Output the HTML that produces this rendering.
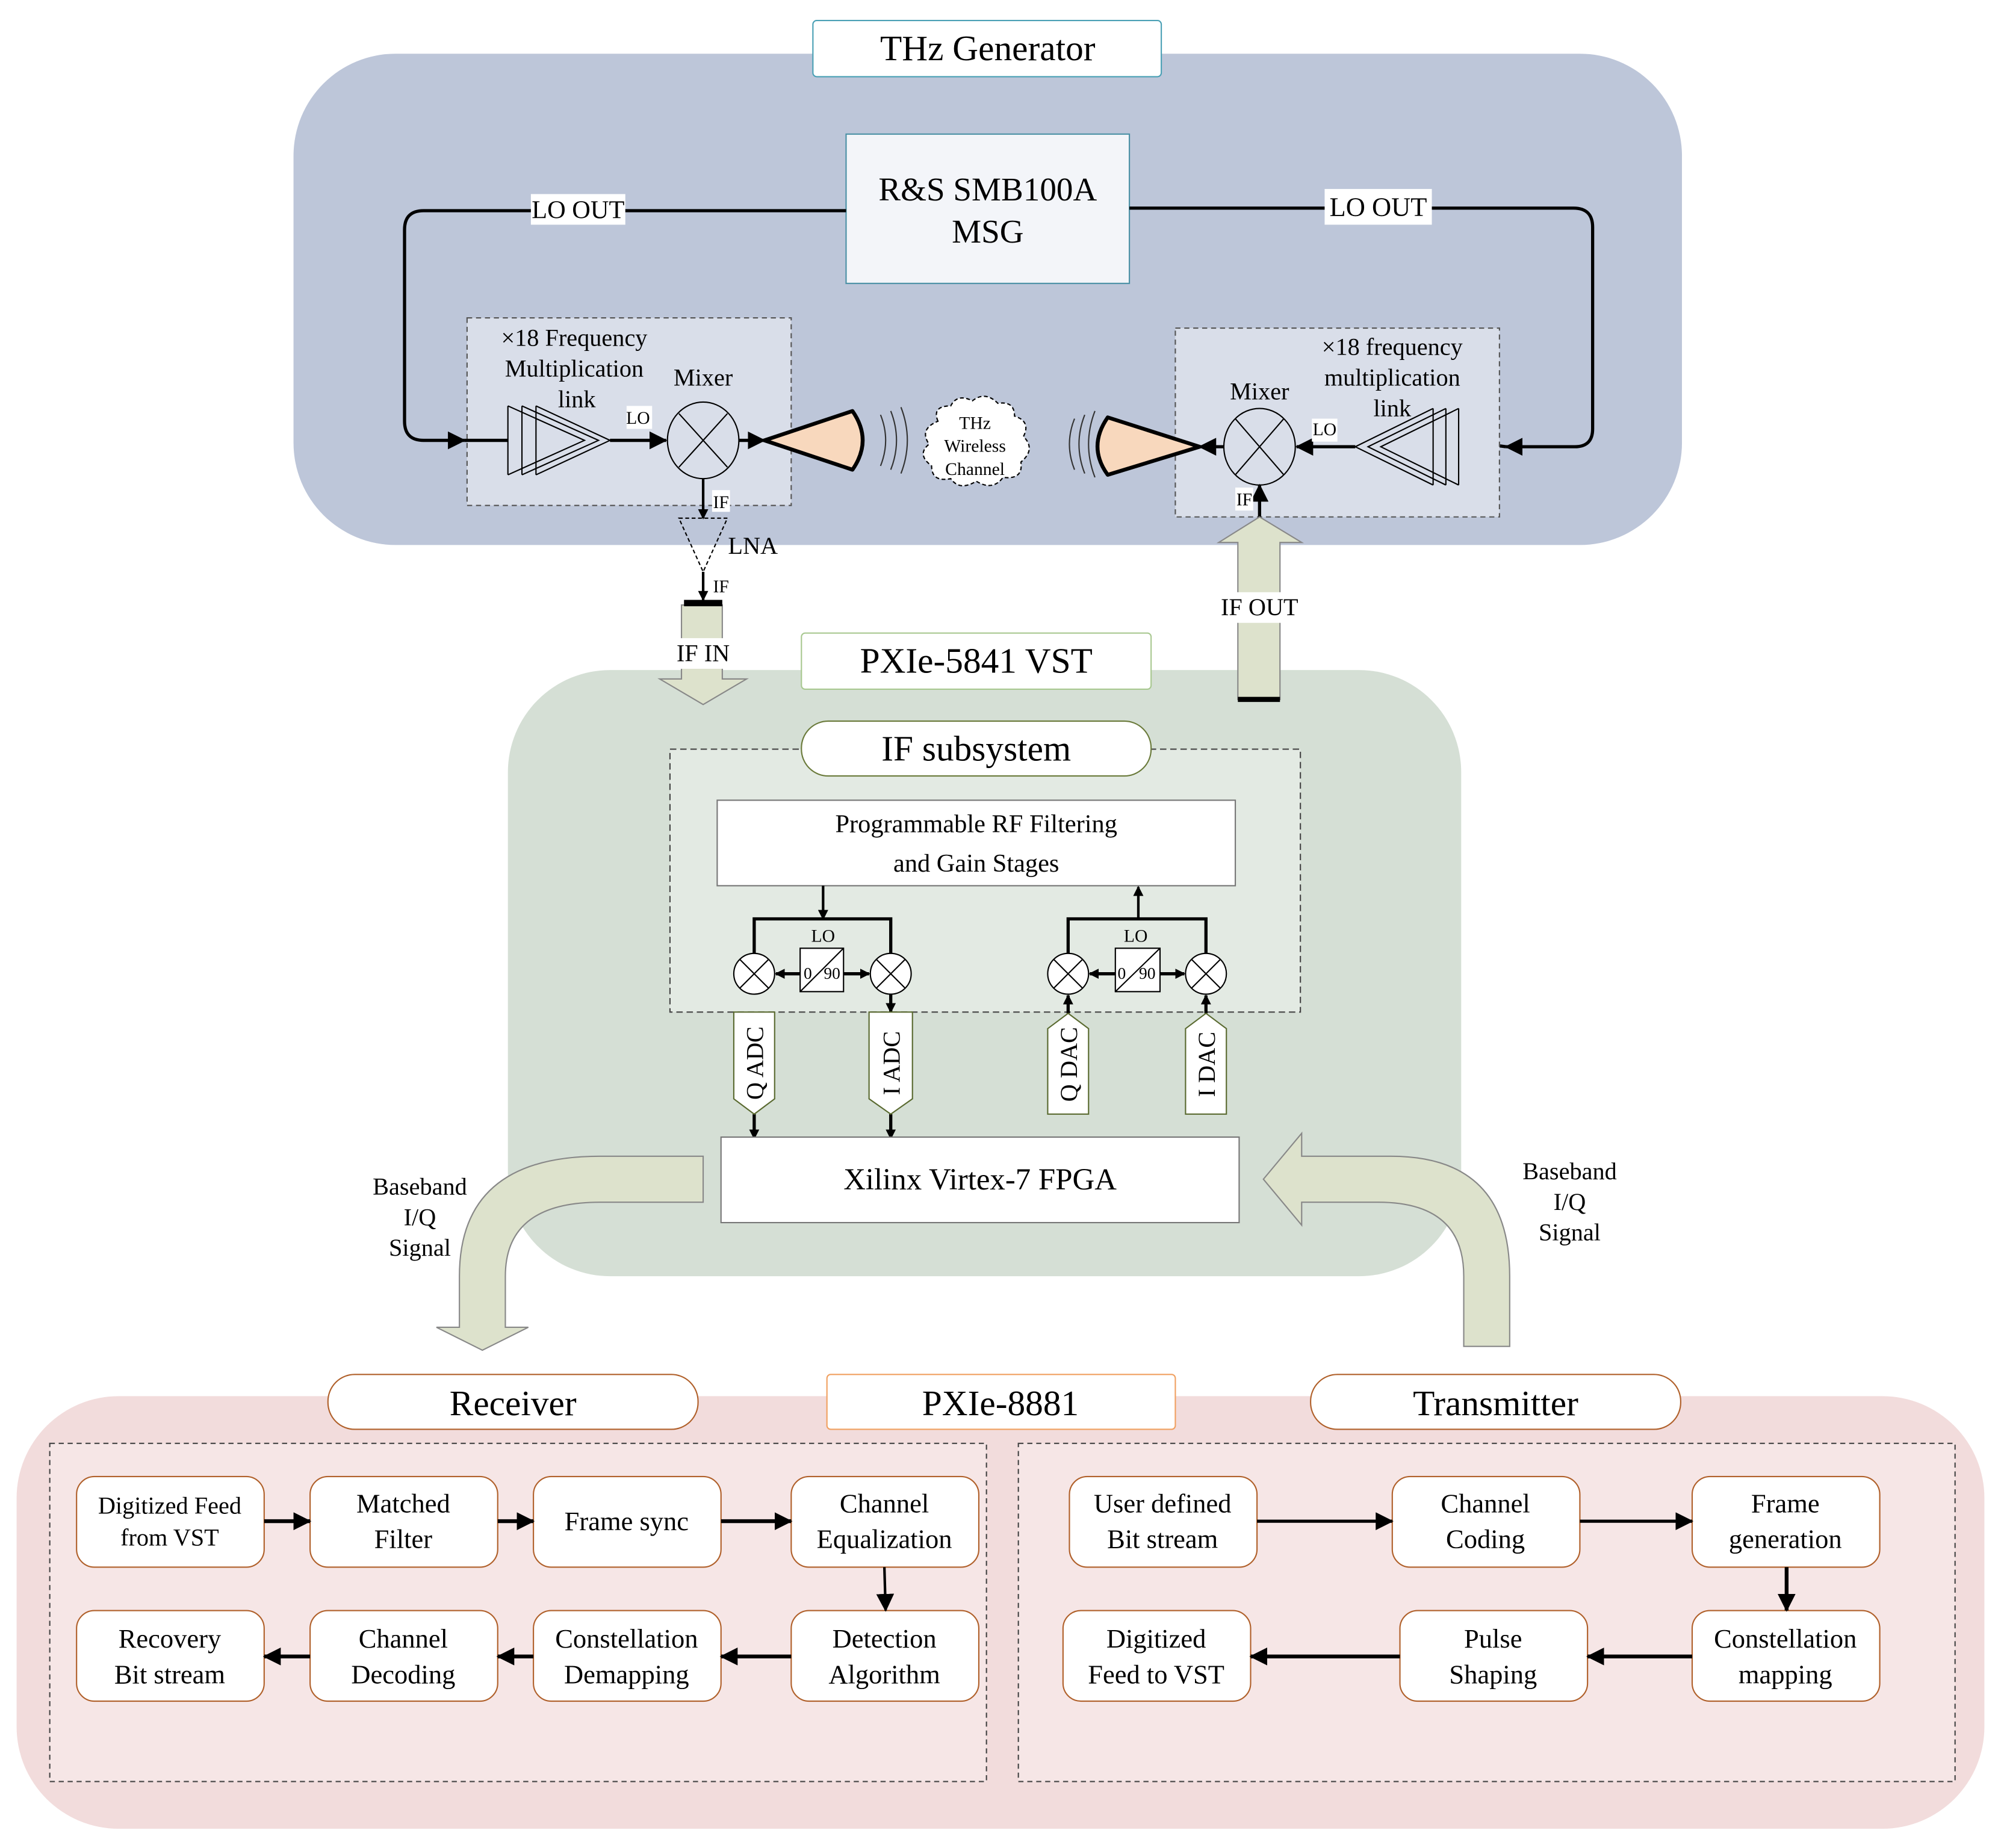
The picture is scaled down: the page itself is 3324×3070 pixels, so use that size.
<!DOCTYPE html>
<html><head><meta charset="utf-8"><style>html,body{margin:0;padding:0;background:#fff}svg{display:block}text{font-family:"Liberation Serif",serif;fill:#000}</style></head><body>
<svg width="3324" height="3070" viewBox="0 0 1568 1448" xmlns="http://www.w3.org/2000/svg">
<defs>
<marker id="ah" markerWidth="10" markerHeight="10" refX="9" refY="5" orient="auto" markerUnits="userSpaceOnUse"><path d="M0,0 L10,5 L0,10 z" fill="#000"/></marker>
<marker id="as" markerWidth="8" markerHeight="8" refX="7" refY="4" orient="auto" markerUnits="userSpaceOnUse"><path d="M0,0 L8,4 L0,8 z" fill="#000"/></marker>
<marker id="ab" markerWidth="14" markerHeight="14" refX="13" refY="7" orient="auto" markerUnits="userSpaceOnUse"><path d="M0,0 L14,7 L0,14 z" fill="#000"/></marker>
</defs>
<rect width="1568" height="1448" fill="#fff"/>

<!-- THz Generator -->
<rect x="230" y="42" width="1088" height="385" rx="80" fill="#bdc6d9"/>
<rect x="637" y="16" width="273" height="44" rx="3" fill="#fff" stroke="#4aa0b5" stroke-width="1"/>
<text x="774" y="47" font-size="28" text-anchor="middle">THz Generator</text>
<rect x="663" y="105" width="222" height="117" fill="#f3f5f9" stroke="#4a90a5" stroke-width="1"/>
<text x="774" y="157" font-size="26" text-anchor="middle">R&amp;S SMB100A</text>
<text x="774" y="190" font-size="26" text-anchor="middle">MSG</text>

<path d="M663,165 L332,165 Q317,165 317,180 L317,330 Q317,345 332,345 L364,345" fill="none" stroke="#000" stroke-width="2.5" marker-end="url(#ab)"/>
<path d="M885,163 L1233,163 Q1248,163 1248,178 L1248,336 Q1248,350 1234,350 L1180,350" fill="none" stroke="#000" stroke-width="2.5" marker-end="url(#ab)"/>
<line x1="1180" y1="350" x2="1143" y2="345" stroke="#000" stroke-width="2.5"/>
<rect x="416" y="152" width="74" height="24" fill="#fff"/><text x="453" y="171" font-size="20" text-anchor="middle">LO OUT</text>
<rect x="1038" y="148" width="84" height="28" fill="#fff"/><text x="1080" y="169" font-size="21" text-anchor="middle">LO OUT</text>

<!-- left module -->
<rect x="366" y="249" width="254" height="147" fill="#d9dee9" stroke="#555" stroke-width="1" stroke-dasharray="4,3"/>
<text x="450" y="271" font-size="19" text-anchor="middle">×18 Frequency</text>
<text x="450" y="295" font-size="19" text-anchor="middle">Multiplication</text>
<text x="452" y="319" font-size="19" text-anchor="middle">link</text>
<g fill="none" stroke="#000" stroke-width="1">
<path d="M398,318 L458,345 L398,372"/><path d="M409,318 L469,345 L409,372"/><path d="M420,318 L478,345 L420,372"/>
<line x1="398" y1="318" x2="398" y2="372"/><line x1="409" y1="318" x2="409" y2="372"/><line x1="420" y1="318" x2="420" y2="372"/>
</g>
<line x1="364" y1="345" x2="398" y2="345" stroke="#000" stroke-width="2.5"/>
<line x1="478" y1="345" x2="522" y2="345" stroke="#000" stroke-width="2.5" marker-end="url(#ab)"/>
<rect x="491" y="318" width="20" height="18" fill="#fff"/><text x="500" y="332" font-size="14" text-anchor="middle">LO</text>
<text x="551" y="302" font-size="19" text-anchor="middle">Mixer</text>
<ellipse cx="551" cy="345" rx="28" ry="30" fill="#d9dee9" stroke="#000" stroke-width="1"/>
<line x1="532" y1="324" x2="570" y2="366" stroke="#000" stroke-width="1"/><line x1="570" y1="324" x2="532" y2="366" stroke="#000" stroke-width="1"/>
<line x1="579" y1="345" x2="599" y2="345" stroke="#000" stroke-width="2.5" marker-end="url(#ab)"/>
<path d="M599,345 L668,322 Q684,345 668,368 Z" fill="#f8d8bd" stroke="#000" stroke-width="3" stroke-linejoin="round"/>
<g fill="none" stroke="#333" stroke-width="1">
<path d="M690,325 Q698,345 690,365"/><path d="M698,322 Q707,345 698,368"/><path d="M706,319 Q716,345 706,371"/>
<path d="M842,328 Q834,348 842,368"/><path d="M850,325 Q841,348 850,371"/><path d="M858,322 Q848,348 858,374"/>
</g>
<path d="M735,330 Q730,318 745,318 Q750,308 762,314 Q772,306 782,316 Q795,314 795,326 Q808,330 802,342 Q812,352 800,362 Q802,376 786,374 Q778,385 765,377 Q752,385 745,375 Q730,378 730,365 Q718,356 728,348 Q720,336 735,330 Z" fill="#fff" stroke="#000" stroke-width="1" stroke-dasharray="3,2"/>
<text x="764" y="336" font-size="14" text-anchor="middle">THz</text>
<text x="764" y="354" font-size="14" text-anchor="middle">Wireless</text>
<text x="764" y="372" font-size="14" text-anchor="middle">Channel</text>

<!-- right module -->
<rect x="921" y="257" width="254" height="148" fill="#d9dee9" stroke="#555" stroke-width="1" stroke-dasharray="4,3"/>
<path d="M940,350 L868,327 Q852,350 868,372 Z" fill="#f8d8bd" stroke="#000" stroke-width="3" stroke-linejoin="round"/>
<text x="1091" y="278" font-size="19" text-anchor="middle">×18 frequency</text>
<text x="1091" y="302" font-size="19" text-anchor="middle">multiplication</text>
<text x="1091" y="326" font-size="19" text-anchor="middle">link</text>
<text x="987" y="313" font-size="19" text-anchor="middle">Mixer</text>
<ellipse cx="987" cy="350" rx="28" ry="30" fill="#d9dee9" stroke="#000" stroke-width="1"/>
<line x1="968" y1="328" x2="1006" y2="372" stroke="#000" stroke-width="1"/><line x1="1006" y1="328" x2="968" y2="372" stroke="#000" stroke-width="1"/>
<g fill="none" stroke="#000" stroke-width="1">
<path d="M1123,320 L1062,350 L1123,380"/><path d="M1133,320 L1072,350 L1133,380"/><path d="M1143,320 L1082,350 L1143,380"/>
<line x1="1123" y1="320" x2="1123" y2="380"/><line x1="1133" y1="320" x2="1133" y2="380"/><line x1="1143" y1="320" x2="1143" y2="380"/>
</g>
<line x1="1062" y1="350" x2="1016" y2="350" stroke="#000" stroke-width="2.5" marker-end="url(#ab)"/>
<rect x="1028" y="328" width="20" height="18" fill="#fff"/><text x="1038" y="341" font-size="14" text-anchor="middle">LO</text>
<line x1="959" y1="350" x2="940" y2="350" stroke="#000" stroke-width="2.5" marker-end="url(#ab)"/>
<line x1="987" y1="405" x2="987" y2="380" stroke="#000" stroke-width="2.5" marker-end="url(#ab)"/>
<rect x="968" y="382" width="14" height="18" fill="#fff"/><text x="975" y="396" font-size="14" text-anchor="middle">IF</text>

<!-- LNA chain -->
<line x1="551" y1="375" x2="551" y2="406" stroke="#000" stroke-width="2" marker-end="url(#as)"/>
<rect x="558" y="384" width="14" height="17" fill="#fff"/><text x="565" y="398" font-size="14" text-anchor="middle">IF</text>
<path d="M532,406 L570,406 L551,448 Z" fill="none" stroke="#000" stroke-width="1" stroke-dasharray="3,2"/>
<text x="590" y="434" font-size="19" text-anchor="middle">LNA</text>
<line x1="551" y1="448" x2="551" y2="470" stroke="#000" stroke-width="2" marker-end="url(#as)"/>
<rect x="558" y="451" width="14" height="16" fill="#fff"/><text x="565" y="464" font-size="14" text-anchor="middle">IF</text>

<!-- VST -->
<rect x="398" y="525" width="747" height="475" rx="80" fill="#d5dfd5"/>
<path d="M534,474 L566,474 L566,532 L585,532 L551,552 L517,532 L534,532 Z" fill="#dde2cc" stroke="#888" stroke-width="1"/>
<rect x="536" y="470" width="30" height="5" fill="#000"/>
<rect x="527" y="500" width="48" height="24" fill="#fff"/><text x="551" y="518" font-size="19" text-anchor="middle">IF IN</text>
<path d="M970,548 L970,425 L955,425 L987,405 L1020,425 L1003,425 L1003,548 Z" fill="#dde2cc" stroke="#888" stroke-width="1"/>
<rect x="970" y="546" width="33" height="4" fill="#000"/>
<rect x="953" y="464" width="68" height="24" fill="#fff"/><text x="987" y="482" font-size="19" text-anchor="middle">IF OUT</text>
<rect x="628" y="496" width="274" height="44" rx="3" fill="#fff" stroke="#a8c890" stroke-width="1"/>
<text x="765" y="527" font-size="28" text-anchor="middle">PXIe-5841 VST</text>

<rect x="525" y="587" width="494" height="206" fill="#e3eae3" stroke="#444" stroke-width="1" stroke-dasharray="5,3"/>
<rect x="628" y="565" width="274" height="43" rx="21" fill="#fff" stroke="#6a7a3a" stroke-width="1"/>
<text x="765" y="596" font-size="28" text-anchor="middle">IF subsystem</text>
<rect x="562" y="627" width="406" height="67" fill="#fff" stroke="#777" stroke-width="1"/>
<text x="765" y="652" font-size="20" text-anchor="middle">Programmable RF Filtering</text>
<text x="765" y="683" font-size="20" text-anchor="middle">and Gain Stages</text>

<g stroke="#000" fill="none">
<line x1="645" y1="694" x2="645" y2="720" stroke-width="2" marker-end="url(#as)"/>
<path d="M591,747 L591,720 L698,720 L698,747" stroke-width="2.5"/>
<line x1="892" y1="720" x2="892" y2="695" stroke-width="2" marker-end="url(#as)"/>
<path d="M837,747 L837,720 L945,720 L945,747" stroke-width="2.5"/>
</g>
<text x="645" y="738" font-size="14" text-anchor="middle">LO</text>
<text x="890" y="738" font-size="14" text-anchor="middle">LO</text>
<g fill="#fff" stroke="#000" stroke-width="1">
<ellipse cx="591" cy="763" rx="16" ry="16"/><ellipse cx="698" cy="763" rx="16" ry="16"/>
<ellipse cx="837" cy="763" rx="16" ry="16"/><ellipse cx="945" cy="763" rx="16" ry="16"/>
<rect x="627" y="743" width="34" height="34"/><rect x="874" y="743" width="35" height="34"/>
</g>
<g stroke="#000" stroke-width="1">
<line x1="580" y1="752" x2="602" y2="774"/><line x1="602" y1="752" x2="580" y2="774"/>
<line x1="687" y1="752" x2="709" y2="774"/><line x1="709" y1="752" x2="687" y2="774"/>
<line x1="826" y1="752" x2="848" y2="774"/><line x1="848" y1="752" x2="826" y2="774"/>
<line x1="934" y1="752" x2="956" y2="774"/><line x1="956" y1="752" x2="934" y2="774"/>
<line x1="627" y1="777" x2="661" y2="743"/><line x1="874" y1="777" x2="909" y2="743"/>
</g>
<text x="633" y="767" font-size="13" text-anchor="middle">0</text><text x="652" y="767" font-size="13" text-anchor="middle">90</text>
<text x="879" y="767" font-size="13" text-anchor="middle">0</text><text x="899" y="767" font-size="13" text-anchor="middle">90</text>
<g stroke="#000" stroke-width="2.5">
<line x1="627" y1="763" x2="608" y2="763" marker-end="url(#as)"/><line x1="661" y1="763" x2="681" y2="763" marker-end="url(#as)"/>
<line x1="874" y1="763" x2="854" y2="763" marker-end="url(#as)"/><line x1="909" y1="763" x2="928" y2="763" marker-end="url(#as)"/>
<line x1="698" y1="779" x2="698" y2="793" marker-end="url(#as)"/>
<line x1="837" y1="794" x2="837" y2="780" marker-end="url(#as)"/><line x1="945" y1="794" x2="945" y2="780" marker-end="url(#as)"/>
<line x1="591" y1="873" x2="591" y2="892" marker-end="url(#as)"/><line x1="698" y1="873" x2="698" y2="892" marker-end="url(#as)"/>
</g>
<g fill="#fff" stroke="#5a6a30" stroke-width="1">
<path d="M575,793 L607,793 L607,861 L591,873 L575,861 Z"/><path d="M681,793 L715,793 L715,861 L698,873 L681,861 Z"/>
<path d="M821,806 L837,794 L853,806 L853,873 L821,873 Z"/><path d="M929,806 L945,794 L961,806 L961,873 L929,873 Z"/>
</g>
<text transform="translate(598,833) rotate(-90)" font-size="19" text-anchor="middle">Q ADC</text>
<text transform="translate(705,833) rotate(-90)" font-size="19" text-anchor="middle">I ADC</text>
<text transform="translate(844,834) rotate(-90)" font-size="19" text-anchor="middle">Q DAC</text>
<text transform="translate(952,834) rotate(-90)" font-size="19" text-anchor="middle">I DAC</text>
<rect x="565" y="891" width="406" height="67" fill="#fff" stroke="#777" stroke-width="1"/>
<text x="768" y="932" font-size="24" text-anchor="middle">Xilinx Virtex-7 FPGA</text>

<!-- baseband arrows -->
<path d="M551,906 L470,906 Q360,906 360,1000 L360,1040 L342,1040 L378,1058 L414,1040 L396,1040 L396,1000 Q396,942 470,942 L551,942 Z" fill="#dde2cc" stroke="#888" stroke-width="1"/>
<text x="329" y="936" font-size="19" text-anchor="middle">Baseband</text>
<text x="329" y="960" font-size="19" text-anchor="middle">I/Q</text>
<text x="329" y="984" font-size="19" text-anchor="middle">Signal</text>
<path d="M1147,1055 L1147,1000 Q1147,942 1080,942 L1020,942 L1020,960 L990,924 L1020,888 L1020,906 L1090,906 Q1183,906 1183,1000 L1183,1055 Z" fill="#dde2cc" stroke="#888" stroke-width="1"/>
<text x="1230" y="924" font-size="19" text-anchor="middle">Baseband</text>
<text x="1230" y="948" font-size="19" text-anchor="middle">I/Q</text>
<text x="1230" y="972" font-size="19" text-anchor="middle">Signal</text>

<!-- PXIe-8881 -->
<rect x="13" y="1094" width="1542" height="339" rx="80" fill="#f2dcdc"/>
<rect x="39" y="1131" width="734" height="265" fill="#f6e6e6" stroke="#444" stroke-width="1" stroke-dasharray="4,3"/>
<rect x="798" y="1131" width="734" height="265" fill="#f6e6e6" stroke="#444" stroke-width="1" stroke-dasharray="4,3"/>
<rect x="257" y="1077" width="290" height="43" rx="21" fill="#fff" stroke="#b0602a" stroke-width="1"/>
<text x="402" y="1109" font-size="28" text-anchor="middle">Receiver</text>
<rect x="648" y="1077" width="273" height="43" rx="3" fill="#fff" stroke="#f0a060" stroke-width="1"/>
<text x="784" y="1109" font-size="28" text-anchor="middle">PXIe-8881</text>
<rect x="1027" y="1077" width="290" height="43" rx="21" fill="#fff" stroke="#b0602a" stroke-width="1"/>
<text x="1172" y="1109" font-size="28" text-anchor="middle">Transmitter</text>

<g fill="#fff" stroke="#b0602a" stroke-width="1">
<rect x="60" y="1157" width="147" height="71" rx="14"/><rect x="243" y="1157" width="147" height="71" rx="14"/>
<rect x="418" y="1157" width="147" height="71" rx="14"/><rect x="620" y="1157" width="147" height="71" rx="14"/>
<rect x="60" y="1262" width="147" height="71" rx="14"/><rect x="243" y="1262" width="147" height="71" rx="14"/>
<rect x="418" y="1262" width="147" height="71" rx="14"/><rect x="620" y="1262" width="147" height="71" rx="14"/>
<rect x="838" y="1157" width="147" height="71" rx="14"/><rect x="1091" y="1157" width="147" height="71" rx="14"/>
<rect x="1326" y="1157" width="147" height="71" rx="14"/>
<rect x="833" y="1262" width="147" height="71" rx="14"/><rect x="1097" y="1262" width="147" height="71" rx="14"/>
<rect x="1326" y="1262" width="147" height="71" rx="14"/>
</g>
<g font-size="21" text-anchor="middle">
<text x="133" y="1186" font-size="19">Digitized Feed</text><text x="133" y="1211" font-size="19">from VST</text>
<text x="316" y="1185">Matched</text><text x="316" y="1213">Filter</text>
<text x="491" y="1199">Frame sync</text>
<text x="693" y="1185">Channel</text><text x="693" y="1213">Equalization</text>
<text x="133" y="1291">Recovery</text><text x="133" y="1319">Bit stream</text>
<text x="316" y="1291">Channel</text><text x="316" y="1319">Decoding</text>
<text x="491" y="1291">Constellation</text><text x="491" y="1319">Demapping</text>
<text x="693" y="1291">Detection</text><text x="693" y="1319">Algorithm</text>
<text x="911" y="1185">User defined</text><text x="911" y="1213">Bit stream</text>
<text x="1164" y="1185">Channel</text><text x="1164" y="1213">Coding</text>
<text x="1399" y="1185">Frame</text><text x="1399" y="1213">generation</text>
<text x="906" y="1291">Digitized</text><text x="906" y="1319">Feed to VST</text>
<text x="1170" y="1291">Pulse</text><text x="1170" y="1319">Shaping</text>
<text x="1399" y="1291">Constellation</text><text x="1399" y="1319">mapping</text>
</g>
<g stroke="#000" stroke-width="3">
<line x1="207" y1="1192" x2="243" y2="1192" marker-end="url(#ab)"/>
<line x1="390" y1="1192" x2="418" y2="1192" marker-end="url(#ab)"/>
<line x1="565" y1="1192" x2="620" y2="1192" marker-end="url(#ab)"/>
<line x1="693" y1="1228" x2="694" y2="1262" stroke-width="2" marker-end="url(#ab)"/>
<line x1="620" y1="1298" x2="565" y2="1298" marker-end="url(#ab)"/>
<line x1="418" y1="1298" x2="390" y2="1298" marker-end="url(#ab)"/>
<line x1="243" y1="1298" x2="207" y2="1298" marker-end="url(#ab)"/>
<line x1="985" y1="1192" x2="1091" y2="1192" stroke-width="2.5" marker-end="url(#ab)"/>
<line x1="1238" y1="1192" x2="1326" y2="1192" stroke-width="2.5" marker-end="url(#ab)"/>
<line x1="1400" y1="1228" x2="1400" y2="1262" marker-end="url(#ab)"/>
<line x1="1326" y1="1298" x2="1244" y2="1298" marker-end="url(#ab)"/>
<line x1="1097" y1="1298" x2="980" y2="1298" marker-end="url(#ab)"/>
</g>
</svg>
</body></html>
